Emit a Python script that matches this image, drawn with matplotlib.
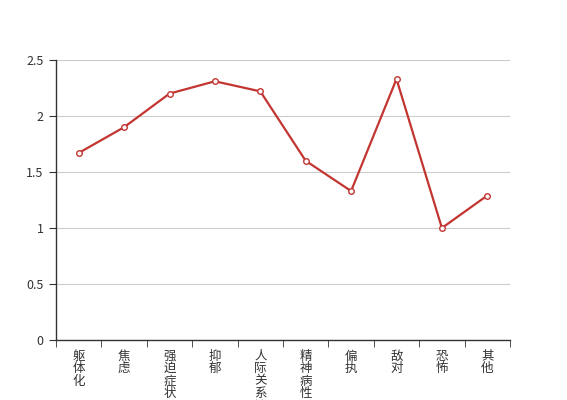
import numpy as np
import matplotlib
matplotlib.use("Agg")
import matplotlib.pyplot as plt
from matplotlib.ticker import FixedLocator

plt.rcParams["font.family"] = ["Noto Sans CJK SC", "DejaVu Sans"]

categories = ["躯体化", "焦虑", "强迫症状", "抑郁", "人际关系敏感",
              "精神病性", "偏执", "敌对", "恐怖", "其他"]
values = [1.67, 1.90, 2.20, 2.31, 2.22, 1.60, 1.33, 2.33, 1.00, 1.29]
yticks = [0, 0.5, 1, 1.5, 2, 2.5]
ytick_labels = ["0", "0.5", "1", "1.5", "2", "2.5"]

fig = plt.figure(figsize=(5.67, 4.0), dpi=100)
ax = fig.add_axes([56 / 567, 60 / 400, 454 / 567, 280 / 400])

x = np.arange(len(categories))
ax.plot(x, values, color="#c23531", linewidth=1.6, marker="o", markersize=4,
        markerfacecolor="white", markeredgecolor="#c23531", markeredgewidth=1, zorder=3)

ax.set_xlim(-0.5, len(categories) - 0.5)
ax.set_ylim(0, 2.5)
ax.set_yticks(yticks)
ax.set_yticklabels(ytick_labels, fontsize=9, color="#333333")
ax.grid(axis="y", color="#cccccc", linewidth=0.8)
ax.set_axisbelow(True)

ax.set_xticks(x)
ax.set_xticklabels(["\n".join(c) for c in categories], fontsize=9, color="#333333",
                   linespacing=0.95, va="top")
ax.xaxis.set_minor_locator(FixedLocator(np.arange(-0.5, len(categories), 1)))
ax.tick_params(axis="x", which="major", length=0, pad=7)
ax.tick_params(axis="x", which="minor", length=5, color="#333333")
ax.tick_params(axis="y", length=5, color="#333333", pad=4)

for s in ["top", "right"]:
    ax.spines[s].set_visible(False)
for s in ["left", "bottom"]:
    ax.spines[s].set_color("#333333")
    ax.spines[s].set_linewidth(1)

fig.savefig("out.png", dpi=100)
